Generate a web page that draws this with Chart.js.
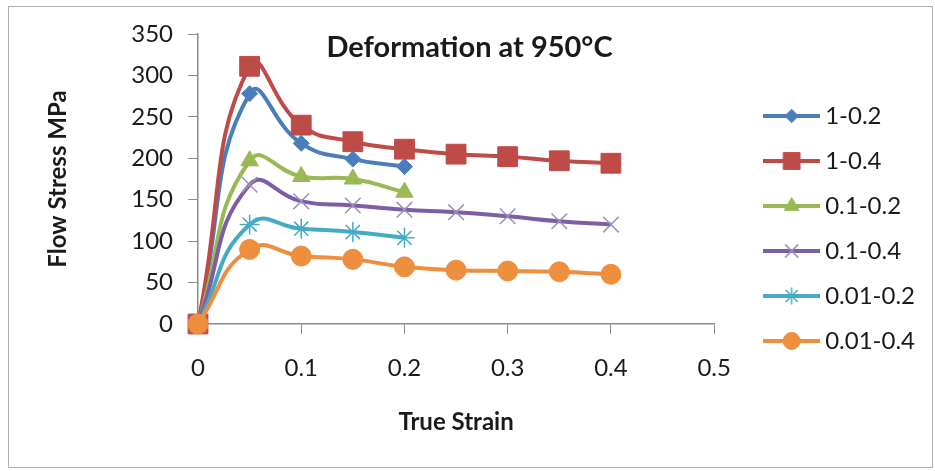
<!DOCTYPE html>
<html>
<head>
<meta charset="utf-8">
<script src="https://cdn.jsdelivr.net/npm/chart.js@4.4.1/dist/chart.umd.min.js"></script>
<style>
  html, body { margin: 0; padding: 0; background: #fff; }
  #wrap { width: 935px; height: 471px; }
</style>
</head>
<body>
<div id="wrap"><canvas id="chart" width="935" height="471"></canvas></div>
<script>
// Flow stress curves at 950°C (strain rate - total strain)
const chartTitle = 'Deformation at 950°C';
const seriesNames = ['1-0.2', '1-0.4', '0.1-0.2', '0.1-0.4', '0.01-0.2', '0.01-0.4'];
const strainShort = [0, 0.05, 0.1, 0.15, 0.2];
const strainLong = [0, 0.05, 0.1, 0.15, 0.2, 0.25, 0.3, 0.35, 0.4];

const stress1_02 = [0, 278, 218, 199, 190];
const stress1_04 = [0, 311, 240, 220, 211, 205, 202, 197, 194];
const stress01_02 = [0, 197, 178, 175, 159];
const stress01_04 = [0, 168, 148, 143, 138, 135, 130, 124, 120];
const stress001_02 = [0, 120, 115, 111, 104];
const stress001_04 = [0, 90, 82, 78, 69, 65, 64, 63, 60];

const xTicks = [0, 0.1, 0.2, 0.3, 0.4, 0.5];
const yTicks = [0, 50, 100, 150, 200, 250, 300, 350];

const series = [
    { xs: strainShort, ys: stress1_02, color: '#4A7EBB', marker: '#4A7EBB', style: 'rectRot', r: 8, bw: 1 },
    { xs: strainLong, ys: stress1_04, color: '#BE4B48', marker: '#BE4B48', style: 'rect', r: 14, bw: 1 },
    { xs: strainShort, ys: stress01_02, color: '#98B954', marker: '#98B954', style: 'triangle', r: 10, bw: 1 },
    { xs: strainLong, ys: stress01_04, color: '#7D5EA6', marker: '#9C8FB8', style: 'crossRot', r: 11, bw: 1.5 },
    { xs: strainShort, ys: stress001_02, color: '#46AAC5', marker: '#46AAC5', style: 'star', r: 10, bw: 1.5 },
    { xs: strainLong, ys: stress001_04, color: '#EE8E3F', marker: '#EE8E3F', style: 'circle', r: 10, bw: 1 }
];

Chart.defaults.font.family = 'Lato, "Open Sans", sans-serif';
Chart.defaults.color = '#1a1a1a';

// legend icon: short line with the marker in the middle
function makeIcon(s) {
    const c = document.createElement('canvas');
    c.width = 57; c.height = 24;
    const ctx = c.getContext('2d');
    ctx.strokeStyle = s.color;
    ctx.lineWidth = 4;
    ctx.beginPath();
    ctx.moveTo(0, 12);
    ctx.lineTo(57, 12);
    ctx.stroke();
    ctx.fillStyle = s.marker;
    ctx.strokeStyle = s.marker;
    ctx.lineWidth = s.bw;
    Chart.helpers.drawPoint(ctx, { pointStyle: s.style, radius: s.r * 0.85, rotation: 0, borderWidth: s.bw }, 28.5, 12);
    return c;
}
const legendIcons = series.map(makeIcon);

const datasets = series.map((s, i) => ({
    label: seriesNames[i],
    data: s.xs.map((x, j) => ({ x: x, y: s.ys[j] })),
    borderColor: s.color,
    backgroundColor: s.marker,
    borderWidth: 4,
    tension: 0.5,
    pointStyle: s.style,
    pointRadius: s.r,
    pointBorderWidth: s.bw,
    pointBorderColor: s.marker,
    pointBackgroundColor: s.marker,
    clip: false,
    order: series.length - i
}));

const framePlugin = {
    id: 'frame',
    beforeDraw(chart) {
        const ctx = chart.ctx;
        ctx.save();
        ctx.fillStyle = '#fff';
        ctx.fillRect(0, 0, chart.width, chart.height);
        ctx.strokeStyle = '#b0b0b0';
        ctx.lineWidth = 1;
        ctx.strokeRect(8.5, 6.5, 924, 461);
        ctx.restore();
    },
    afterDraw(chart) {
        const ctx = chart.ctx;
        ctx.save();
        ctx.font = 'bold 29px Lato';
        ctx.fillStyle = '#1a1a1a';
        ctx.textAlign = 'center';
        ctx.textBaseline = 'middle';
        ctx.fillText(chartTitle, chart.width / 2 + 2, 48);
        ctx.restore();
    }
};

new Chart(document.getElementById('chart'), {
    type: 'line',
    data: { datasets: datasets },
    plugins: [framePlugin],
    options: {
        responsive: false,
        animation: false,
        layout: { padding: { top: 34, left: 10, right: 10, bottom: 7 } },
        scales: {
            x: {
                type: 'linear',
                min: 0, max: 0.5,
                afterBuildTicks: s => { s.ticks = xTicks.map(v => ({ value: v })); },
                afterFit: s => { s.height = 140; },
                ticks: { font: { size: 24 }, padding: 20, color: '#1a1a1a', maxRotation: 0 },
                grid: { drawOnChartArea: false, tickLength: 10, color: '#8c8c8c' },
                border: { color: '#8c8c8c', width: 1.5 },
                title: { display: true, text: 'True Strain', font: { size: 24, weight: 'bold' }, padding: { top: 25, bottom: 27 }, color: '#1a1a1a' }
            },
            y: {
                min: 0, max: 350,
                afterBuildTicks: s => { s.ticks = yTicks.map(v => ({ value: v })); },
                afterFit: s => { s.width = 188; },
                ticks: { font: { size: 24 }, padding: 15, color: '#1a1a1a' },
                grid: { drawOnChartArea: false, tickLength: 10, color: '#8c8c8c' },
                border: { color: '#8c8c8c', width: 1.5 },
                title: { display: true, text: 'Flow Stress MPa', font: { size: 24, weight: 'bold' }, padding: { top: 34, bottom: 34 }, color: '#1a1a1a' }
            },
            yPad: {
                type: 'linear',
                position: 'right',
                display: true,
                grid: { display: false },
                border: { display: false },
                ticks: { display: false },
                afterFit: s => { s.width = 35; }
            }
        },
        plugins: {
            tooltip: { enabled: false },
            legend: {
                position: 'right',
                align: 'start',
                maxWidth: 240,
                title: { display: true, text: ' ', padding: { top: 39, bottom: 0 }, font: { size: 10, lineHeight: 1 } },
                labels: {
                    usePointStyle: true,
                    pointStyleWidth: 43,
                    padding: 21,
                    font: { size: 24 },
                    color: '#1a1a1a',
                    generateLabels: chart => chart.data.datasets.map((ds, i) => ({
                        text: ds.label,
                        pointStyle: legendIcons[i],
                        fillStyle: ds.borderColor,
                        strokeStyle: ds.borderColor,
                        lineWidth: 0,
                        hidden: false,
                        datasetIndex: i
                    }))
                }
            }
        }
    }
});
</script>
</body>
</html>
